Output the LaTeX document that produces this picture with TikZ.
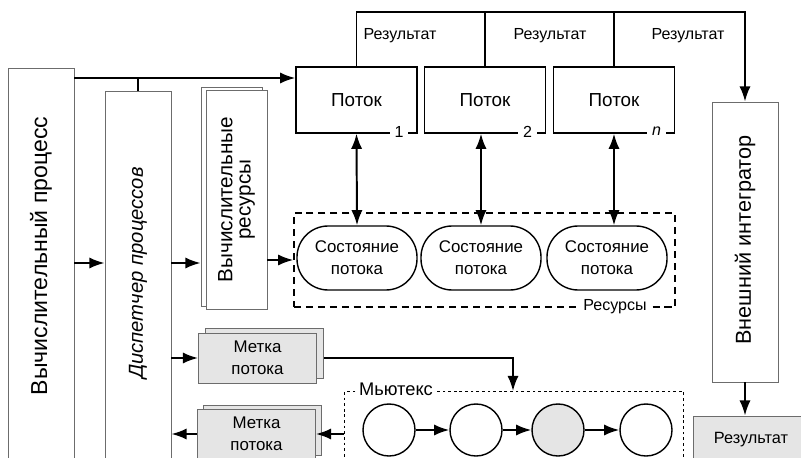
\documentclass[tikz,border=0pt]{standalone}
\usepackage{fontspec}
\setmainfont{Liberation Sans}
\usetikzlibrary{arrows.meta,positioning}

\newcommand{\fsz}[1]{\fontsize{#1}{1.3\dimexpr#1pt\relax}\selectfont}

\begin{document}
\begin{tikzpicture}[x=0.025cm, y=-0.025cm, >={Latex[length=3.8mm,width=2.8mm]},
  every node/.style={font=\fsz{12}},
  graybox/.style={draw=gray!85!black, line width=0.6pt, inner sep=0pt},
  flowbox/.style={draw, line width=1pt, minimum width=3.025cm, minimum height=1.65cm, font=\fsz{13.4}},
  statebox/.style={draw, line width=1pt, rounded corners=0.78cm, minimum width=3cm, minimum height=1.6cm, align=center},
  tagbox/.style={draw=gray!85!black, fill=gray!20, line width=0.6pt, minimum width=2.95cm, minimum height=1.25cm, align=center},
  numlabel/.style={fill=white, inner sep=3.5pt, anchor=east, font=\fsz{11.4}},
  reslabel/.style={font=\fsz{11.4}},
  rottext/.style={rotate=90, font=\fsz{14.7}},
  link/.style={line width=1.4pt}]
\useasboundingbox (0,0) rectangle (801,458);

% Left columns
\node[graybox, minimum width=1.65cm, minimum height=10.05cm] (proc) at (41,269) {};
\node[rottext, font=\fsz{16.4}] (procT) at (41,256) {Вычислительный процесс};
\node[graybox, minimum width=1.65cm, minimum height=9.5cm] (disp) at (138,281) {};
\node[rottext, font=\fsz{14.4}\itshape] (dispT) at (138,273) {Диспетчер процессов};
\node[graybox, fill=white, minimum width=1.525cm, minimum height=5.475cm] (cpuB) at (231.5,196.5) {};
\node[graybox, fill=white, minimum width=1.525cm, minimum height=5.475cm] (cpu) at (236.5,199.5)
  {\rotatebox{90}{\fsz{14.7}\shortstack{Вычислительные\\[2pt]ресурсы}}};

% Threads
\node[flowbox] (flow1) at (356.5,100) {Поток};
\node[flowbox] (flow2) at (485,100) {Поток};
\node[flowbox] (flow3) at (614,100) {Поток};
\node[numlabel] (n1) at ([xshift=-6.4pt, yshift=1.5pt]flow1.south east) {1};
\node[numlabel] (n2) at ([xshift=-6.4pt, yshift=1.5pt]flow2.south east) {2};
\node[numlabel] (n3) at ([xshift=-6.4pt, yshift=1.5pt]flow3.south east) {\itshape n};

% External integrator and result
\node[graybox, minimum width=1.65cm, minimum height=7cm] (integ) at (745,242) {};
\node[rottext, font=\fsz{15.4}] (integT) at (745,240) {Внешний интегратор};
\node[tagbox, minimum width=2.9cm, minimum height=1.2cm, font=\fsz{11.6}] (result) at (751,440) {Результат};

% Result bus
\coordinate (busR) at (745,12);
\draw[link,->] (flow1.north) |- (busR) -- (integ.north);
\draw[link] (flow2.north) -- (flow2.north |- busR);
\draw[link] (flow3.north) -- (flow3.north |- busR);
\node[reslabel] (r1) at (400,36) {Результат};
\node[reslabel] (r2) at (550,36) {Результат};
\node[reslabel] (r3) at (688,36) {Результат};

% Resources
\node[draw, line width=1pt, dash pattern=on 5pt off 3.5pt, minimum width=9.525cm, minimum height=2.35cm] (res) at (484.5,260) {};
\node[statebox] (st1) at (357,258) {Состояние\\потока};
\node[statebox] (st2) at (481,258) {Состояние\\потока};
\node[statebox] (st3) at (607,258) {Состояние\\потока};
\node[fill=white, inner sep=2pt, font=\fsz{11.4}] (resL) at (615,307) {Ресурсы};
\draw[link,<->] (flow1.south) -- (st1.north);
\draw[link,<->] (flow2.south -| st2.north) -- (st2.north);
\draw[link,<->] (flow3.south) -- (flow3.south |- st3.north);

% Mutex
\node[draw, line width=0.7pt, dash pattern=on 2pt off 2pt, minimum width=8.475cm, minimum height=2.3cm, anchor=north west] (mutex) at (344,391) {};
\node[fill=white, inner sep=1pt, font=\fsz{13}] (mutexL) at (396,389) {Мьютекс};
\node[circle, draw, line width=1pt, minimum size=1.3cm] (c1) at (389,430) {};
\node[circle, draw, line width=1pt, minimum size=1.3cm] (c2) at (476,430) {};
\node[circle, draw, line width=1pt, minimum size=1.3cm, fill=gray!20] (c3) at (558,430) {};
\node[circle, draw, line width=1pt, minimum size=1.3cm] (c4) at (646,430) {};
\draw[link,->] (c1) -- (c2);
\draw[link,->] (c2) -- (c3);
\draw[link,->] (c3) -- (c4);

% Thread tags
\node[tagbox] (tag1b) at (264.5,353) {};
\node[tagbox] (tag1) at (257.5,358) {Метка\\потока};
\node[tagbox] (tag2b) at (262.5,430) {};
\node[tagbox] (tag2) at (256.5,434) {Метка\\потока};

% Connectors
\coordinate (procY) at (0,78);
\coordinate (midY) at (0,263);
\coordinate (mutexIn) at (513,391);
\draw[link,->] (proc.east |- procY) -- (flow1.west |- procY);
\draw[link] (disp.north |- procY) -- (disp.north);
\draw[link,->] (proc.east |- midY) -- (disp.west |- midY);
\draw[link,->] (disp.east |- midY) -- (cpuB.west |- midY);
\draw[link,->] (cpu.east |- res.west) -- (res.west);
\draw[link,->] (disp.east |- tag1) -- (tag1.west);
\draw[link,->] (tag1b.east |- tag1) -| (mutexIn);
\draw[link,->] (mutex.west |- tag2) -- (tag2.east);
\draw[link,->] (tag2.west) -- (disp.east |- tag2);
\draw[link,->] (integ.south) -- (integ.south |- result.north);
\end{tikzpicture}
\end{document}
